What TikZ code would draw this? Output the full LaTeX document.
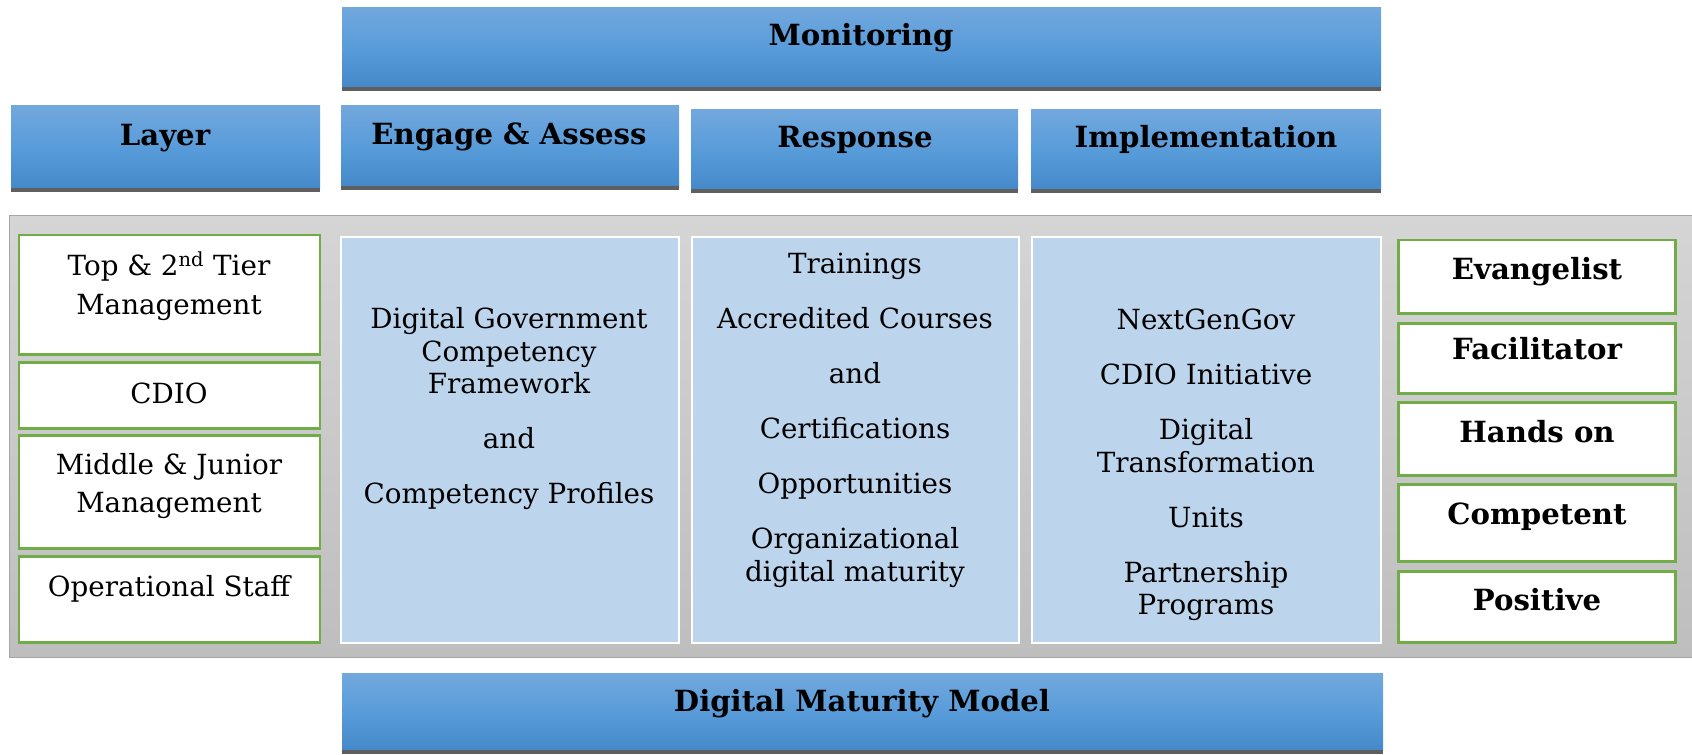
\documentclass[tikz,border=0pt]{standalone}
\usepackage{fontspec}
\setmainfont{DejaVu Serif}
\definecolor{hdrtop}{HTML}{72A8DD}
\definecolor{hdrmid}{HTML}{599CDA}
\definecolor{hdrbot}{HTML}{4589C9}
\definecolor{hdrshadow}{HTML}{5F5F5F}
\definecolor{paneltop}{HTML}{D5D5D5}
\definecolor{panelbot}{HTML}{BEBEBE}
\definecolor{panelline}{HTML}{A6A6A6}
\definecolor{colfill}{HTML}{BDD5EC}
\definecolor{boxgreen}{HTML}{70AD47}

\tikzset{
  hdrtxt/.style={font=\fontsize{16.6}{19}\selectfont\bfseries, inner sep=0pt, text height=0.72em, text depth=0pt},
  bodytxt/.style={font=\fontsize{15.8}{18.4}\selectfont, align=center, inner sep=0pt},
  layertxt/.style={font=\fontsize{15.8}{22.1}\selectfont, align=center, inner sep=0pt},
  colbox/.style={fill=colfill, draw=white, line width=1.1pt},
  greenbox/.style={fill=white, draw=boxgreen, line width=1.7pt}
}

\begin{document}
\begin{tikzpicture}[x=0.02cm, y=-0.02cm]
\useasboundingbox (0,0) rectangle (1692,754);
% blue title bars with their dark bottom edge
\foreach \xa/\xb/\ya/\yb in {342/1381/7/87, 11/320/105/188, 341/679/105/186, 691/1018/109/189, 1031/1381/109/189, 342/1383/673/750} {
  \shade[top color=hdrtop, bottom color=hdrbot, middle color=hdrmid] (\xa,\ya) rectangle (\xb,\yb);
  \fill[hdrshadow] (\xa,\yb) rectangle (\xb,\yb+4);
}
\node[hdrtxt] (monitoring) at (861,39) {Monitoring};
\node[hdrtxt] (layer) at (165,139) {Layer};
\node[hdrtxt] (engage) at (509,138) {Engage \& Assess};
\node[hdrtxt] (response) at (855,141) {Response};
\node[hdrtxt] (implementation) at (1206,141) {Implementation};
\node[hdrtxt] (maturity) at (862,705) {Digital Maturity Model};

% grey panel
\shade[top color=paneltop, bottom color=panelbot, draw=panelline] (9,215) rectangle (1693,657);

% middle columns
\foreach \xa/\xb in {341/679, 692/1019, 1032/1381} {
  \draw[colbox] (\xa,237) rectangle (\xb,643);
}
\node[bodytxt] (framework) at (509,409) {Digital Government\\Competency\\Framework\\[13pt]and\\[13pt]Competency Profiles};
\node[bodytxt] (trainings) at (855,420) {Trainings\\[13pt]Accredited Courses\\[13pt]and\\[13pt]Certifications\\[13pt]Opportunities\\[13pt]Organizational\\digital maturity};
\node[bodytxt] (initiatives) at (1206,465) {NextGenGov\\[13pt]CDIO Initiative\\[13pt]Digital\\Transformation\\[13pt]Units\\[13pt]Partnership\\Programs};

% layers (left)
\foreach \ya/\yb in {235/354, 362/428, 435/548, 556/642} {
  \draw[greenbox] (19,\ya) rectangle (320,\yb);
}
\node[layertxt] (toptier) at (169,286) {Top \& 2\textsuperscript{nd} Tier\\Management};
\node[layertxt] (cdio) at (169,393) {CDIO};
\node[layertxt] (middle) at (169,486) {Middle \& Junior\\Management};
\node[layertxt] (staff) at (169,589) {Operational Staff};

% roles (right)
\foreach \ya/\yb/\ty/\nm/\txt in {240/313/273/evangelist/Evangelist, 323/393/353/facilitator/Facilitator, 402/475/436/handson/Hands on, 484/561/518/competent/Competent, 571/642/604/positive/Positive} {
  \draw[greenbox] (1398,\ya) rectangle (1675,\yb);
  \node[hdrtxt] (\nm) at (1537,\ty) {\txt};
}
\end{tikzpicture}
\end{document}
